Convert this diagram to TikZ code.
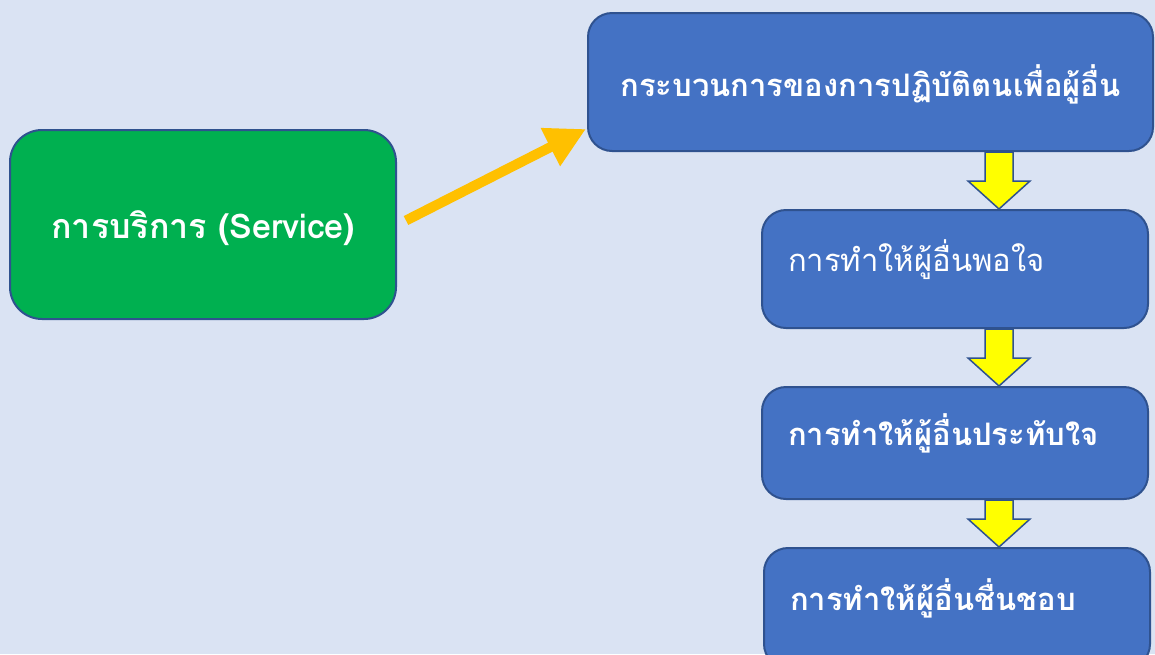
\documentclass[tikz,border=0pt]{standalone}
\usepackage{fontspec}
\newfontfamily\thaifont[Script=Thai]{Loma}
\usepackage{tikz}
\usetikzlibrary{calc,arrows.meta}
\definecolor{bgblue}{HTML}{DAE3F3}
\definecolor{boxblue}{HTML}{4472C4}
\definecolor{edgeblue}{HTML}{2F528F}
\definecolor{srvgreen}{HTML}{00B050}
\definecolor{blkyellow}{HTML}{FFFF00}
\definecolor{srvorange}{HTML}{FFC000}

\begin{document}
\begin{tikzpicture}[x=1pt, y=-1pt,
  box/.style={draw=edgeblue, fill=#1, line width=2pt, rounded corners=24pt, text=white, inner sep=0pt,
    font=\thaifont\fontsize{31}{36}\selectfont},
  stp/.style={box=boxblue, minimum width=386pt, minimum height=#1, text width=334pt, align=left, text depth=26pt},
  blk/.style={draw=edgeblue, fill=blkyellow, line width=1.5pt, line join=miter},
  arr/.style={draw=srvorange, line width=10pt, -{Triangle[length=40pt,width=40pt]}}]
\path[use as bounding box] (0,0) rectangle (1155,654);
\fill[bgblue] (0,0) rectangle (1155,654);
\clip (0,0) rectangle (1155,654);
% service box and the four steps
\node[box=srvgreen, rounded corners=32pt, minimum width=386pt, minimum height=189pt, text height=36pt,
  font=\thaifont\fontsize{34}{40}\selectfont] (serv) at (203,224.5) {\bfseries การบริการ (Service)};
\node[box=boxblue, minimum width=565pt, minimum height=138pt, text height=36pt] (proc) at (870.5,82) {\bfseries กระบวนการของการปฏิบัติตนเพื่อผู้อื่น};
\node[stp=118pt] (sat) at (955,269) {การทำให้ผู้อื่นพอใจ};
\node[stp=112pt] (imp) at (955,443) {\bfseries การทำให้ผู้อื่นประทับใจ};
\node[stp=120pt] (lik) at (957,608) {\bfseries การทำให้ผู้อื่นชื่นชอบ};
\draw[arr] ($(serv.east)+(9,-4)$) -- ($(proc.south west)+(-1,-23)$);
% block arrows between the steps
\coordinate (ax) at (999,0);
\foreach \a/\b in {proc/sat,sat/imp,imp/lik}
  \draw[blk] ($(\a.south -| ax)+(-14,0)$) -- ($(\b.north -| ax)+(-14,-28)$) -- ($(\b.north -| ax)+(-31,-28)$)
    -- (\b.north -| ax) -- ($(\b.north -| ax)+(31,-28)$) -- ($(\b.north -| ax)+(14,-28)$) -- ($(\a.south -| ax)+(14,0)$) -- cycle;
\end{tikzpicture}
\end{document}
